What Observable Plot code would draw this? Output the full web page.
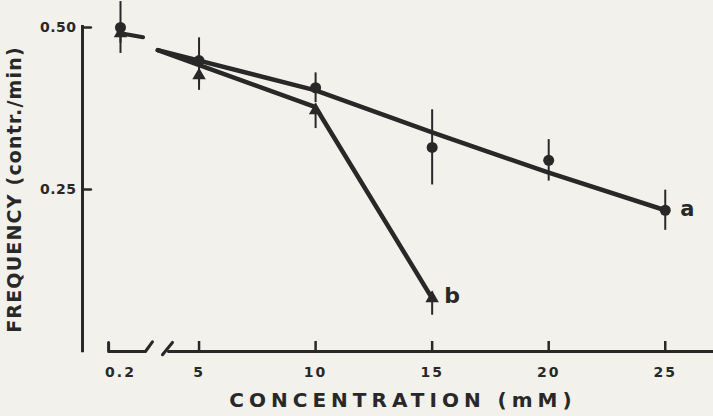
<!DOCTYPE html>
<html>
<head>
<meta charset="utf-8">
<script src="https://cdn.jsdelivr.net/npm/d3@7"></script>
<script src="https://cdn.jsdelivr.net/npm/@observablehq/plot@0.6"></script>
<style>
  html, body { margin: 0; padding: 0; background: #f3f1eb; }
  #chart svg { display: block; font-family: "DejaVu Sans", sans-serif; }
  #chart svg text { font-weight: bold; }
  #chart [aria-label^="x-axis"] text { letter-spacing: 2px; font-size: 14px; }
  #chart [aria-label^="y-axis"] text { letter-spacing: 0.5px; font-size: 14px; }
  #chart [aria-label$="axis tick"], #chart .tick line { stroke-width: 2.5px; }
</style>
</head>
<body>
<div id="chart"></div>
<script>
// Contraction frequency vs. concentration, two preparations (a, b).
const concA = [0.2, 5, 10, 15, 20, 25];
const freqA = [0.50, 0.449, 0.407, 0.315, 0.295, 0.218];
const errUpA = [0.04, 0.035, 0.023, 0.058, 0.032, 0.031];
const errDnA = [0.04, 0.035, 0.023, 0.058, 0.032, 0.031];

const concB = [0.2, 5, 10, 15];
const freqB = [0.491, 0.426, 0.372, 0.082];
const errUpB = [0.01, 0.01, 0.01, 0.01];
const errDnB = [0.015, 0.023, 0.028, 0.026];

// hand-drawn trend lines
const fitConcA = [2.48, 10, 15, 20, 25];
const fitFreqA = [0.465, 0.403, 0.338, 0.276, 0.218];
const fitConcB = [2.48, 10, 15];
const fitFreqB = [0.465, 0.377, 0.082];
const stubConcB = [0.2, 1.58];
const stubFreqB = [0.491, 0.485];

const xTicks = [5, 10, 15, 20, 25];
const lowTick = 0.2;
const yTicks = [0.25, 0.50];

// Broken x axis: concentrations below 5 mM are squeezed into a short
// piece so that 0.2 mM sits just right of the y axis.
const lowPos = 1.63;  // axis position of 0.2 mM
const pos = c => c >= 5 ? c : lowPos + (c - 0.2) * (5 - lowPos) / (5 - 0.2);
const xExtent = [0, 27.07];
const yTickLen = 0.36; // inward y ticks, in axis-position units

// axis line pieces, in axis-position units
const axisPieces = [
  {piece: "low", p: 1.12, v: 0.014},
  {piece: "low", p: 1.12, v: 0},
  {piece: "low", p: 2.70, v: 0},
  {piece: "low", p: 3.00, v: 0.015},
  {piece: "slash", p: 3.43, v: -0.005},
  {piece: "slash", p: 3.86, v: 0.014},
  {piece: "main", p: 3.69, v: 0},
  {piece: "main", p: xExtent[1], v: 0}
];
const yTickMarks = yTicks.flatMap(v => [{v, p: xExtent[0]}, {v, p: xExtent[0] + yTickLen}]);

const ink = "#282828";

const toRows = (cs, vs, up, dn) => cs.map((c, i) => ({c, v: vs[i], up: up ? up[i] : 0, dn: dn ? dn[i] : 0}));
const ptsA = toRows(concA, freqA, errUpA, errDnA);
const ptsB = toRows(concB, freqB, errUpB, errDnB);
const lineA = toRows(fitConcA, fitFreqA);
const lineB = toRows(fitConcB, fitFreqB);
const stubB = toRows(stubConcB, stubFreqB);
const px = d => pos(d.c);

const chart = Plot.plot({
  width: 713,
  height: 416,
  marginLeft: 82,
  marginRight: 0,
  marginTop: 27,
  marginBottom: 65,
  style: {background: "#f3f1eb", color: ink, fontSize: "14px"},
  x: {
    domain: xExtent,
    ticks: xTicks,
    tickFormat: d => String(d),
    tickSize: -10,
    tickPadding: 26,
    label: null
  },
  y: {
    domain: [0, 0.5],
    ticks: yTicks,
    tickFormat: d3.format(".2f"),
    tickSize: 0,
    tickPadding: 6,
    label: null
  },
  marks: [
    Plot.line(axisPieces, {x: "p", y: "v", z: "piece", stroke: ink, strokeWidth: 3}),
    Plot.ruleX([xExtent[0]], {y1: -0.002, y2: 0.503, stroke: ink, strokeWidth: 3}),
    Plot.line(yTickMarks, {x: "p", y: "v", z: "v", stroke: ink, strokeWidth: 2.5}),
    Plot.text([lowTick], {x: pos, y: 0, text: d => String(d), dy: 16, lineAnchor: "top", fontSize: 14, fill: ink}),
    Plot.ruleX(ptsA, {x: px, y1: d => d.v - d.dn, y2: d => d.v + d.up, stroke: ink, strokeWidth: 2}),
    Plot.ruleX(ptsB, {x: px, y1: d => d.v - d.dn, y2: d => d.v + d.up, stroke: ink, strokeWidth: 2}),
    Plot.line(lineA, {x: px, y: "v", stroke: ink, strokeWidth: 4.5}),
    Plot.line(lineB, {x: px, y: "v", stroke: ink, strokeWidth: 4.5}),
    Plot.line(stubB, {x: px, y: "v", stroke: ink, strokeWidth: 4}),
    Plot.dot(ptsA, {x: px, y: "v", r: 5.5, fill: ink}),
    Plot.dot(ptsB, {x: px, y: "v", r: 5, symbol: "triangle", fill: ink}),
    Plot.text([ptsA[ptsA.length - 1]], {x: px, y: "v", text: () => "a", dx: 22, dy: -1, fontSize: 21, fill: ink}),
    Plot.text([ptsB[ptsB.length - 1]], {x: px, y: "v", text: () => "b", dx: 20, dy: -2, fontSize: 22, fill: ink}),
    Plot.text(["CONCENTRATION (mM)"], {frameAnchor: "bottom", lineAnchor: "middle", textAnchor: "middle", dx: 5, dy: 49, fontSize: 20, fill: ink}),
    Plot.text(["FREQUENCY (contr./min)"], {frameAnchor: "left", lineAnchor: "middle", textAnchor: "middle", rotate: -90, dx: -68, dy: 0, fontSize: 19, fill: ink})
  ]
});

// letter spacing for the axis titles and the low-range tick label
const spacing = {"CONCENTRATION (mM)": "5px", "FREQUENCY (contr./min)": "1.2px", "0.2": "2px"};
d3.select(chart).selectAll("text").each(function() {
  const s = spacing[this.textContent];
  if (s) this.style.letterSpacing = s;
});

document.getElementById("chart").appendChild(chart);
</script>
</body>
</html>
